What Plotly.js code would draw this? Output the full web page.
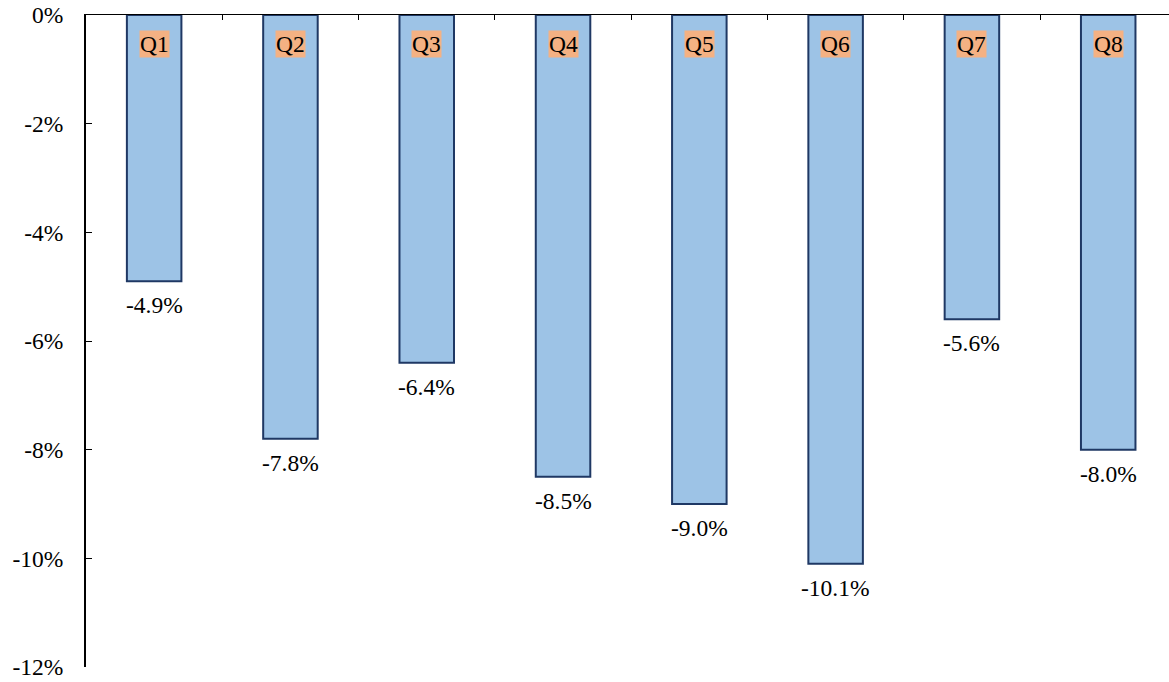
<!DOCTYPE html>
<html>
<head>
<meta charset="utf-8">
<script src="https://cdn.plot.ly/plotly-3.0.1.min.js"></script>
<style>
  html, body { margin: 0; padding: 0; background: #fff; }
  #chart { width: 1169px; height: 682px; }
</style>
</head>
<body>
<div id="chart"></div>
<script>
// Quarterly change, in percent
const quarters = ['Q1', 'Q2', 'Q3', 'Q4', 'Q5', 'Q6', 'Q7', 'Q8'];
const changes = [-4.9, -7.8, -6.4, -8.5, -9.0, -10.1, -5.6, -8.0];
const tickValues = [0, -2, -4, -6, -8, -10, -12];
const tickLabels = ['0%', '-2%', '-4%', '-6%', '-8%', '-10%', '-12%'];

const serif = 'Liberation Serif, Times New Roman, serif';

const trace = {
  type: 'bar',
  x: quarters,
  y: changes,
  width: 0.4,
  marker: {
    color: '#9DC3E6',
    line: { color: '#1F3864', width: 2 }
  },
  cliponaxis: false,
  hoverinfo: 'x+y'
};

// Value labels hanging below the end of each bar
const valueLabels = quarters.map((q, i) => ({
  x: q,
  y: changes[i],
  xref: 'x',
  yref: 'y',
  text: changes[i].toFixed(1) + '%',
  showarrow: false,
  yanchor: 'top',
  yshift: -10,
  borderpad: 0,
  font: { family: serif, size: 23.5, color: '#000' }
}));

// Quarter tags sitting just inside the top of each bar
const tags = quarters.map(q => ({
  x: q,
  y: -0.53,
  xref: 'x',
  yref: 'y',
  text: q,
  showarrow: false,
  bgcolor: '#F4B183',
  borderpad: 0,
  font: { family: serif, size: 23.5, color: '#000' }
}));

const layout = {
  width: 1169,
  height: 682,
  margin: { l: 86, r: 0, t: 15, b: 15 },
  paper_bgcolor: '#fff',
  plot_bgcolor: '#fff',
  showlegend: false,
  font: { family: serif, size: 23.5, color: '#000' },
  xaxis: {
    type: 'category',
    side: 'top',
    range: [-0.5, 7.446],
    showline: true,
    linecolor: '#000',
    linewidth: 1.5,
    ticks: 'inside',
    tickson: 'boundaries',
    ticklen: 5,
    tickcolor: '#000',
    showticklabels: false,
    showgrid: false,
    zeroline: false,
    fixedrange: true
  },
  yaxis: {
    range: [-12, 0],
    tickvals: tickValues,
    ticktext: tickLabels,
    showline: true,
    linecolor: '#000',
    linewidth: 2,
    ticks: 'inside',
    ticklen: 6,
    tickcolor: '#000',
    ticklabelstandoff: 16,
    tickfont: { family: serif, size: 23.5, color: '#000' },
    showgrid: false,
    zeroline: false,
    fixedrange: true
  },
  annotations: valueLabels.concat(tags)
};

Plotly.newPlot('chart', [trace], layout, { displayModeBar: false, staticPlot: true });
</script>
</body>
</html>
